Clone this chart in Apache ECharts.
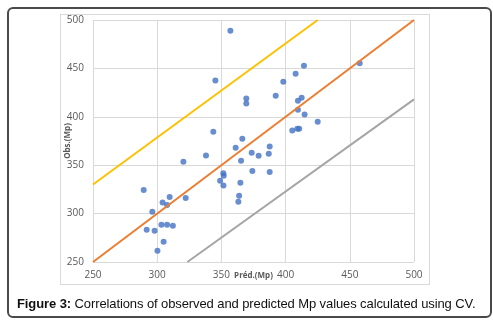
<!DOCTYPE html>
<html>
<head>
<meta charset="utf-8">
<script src="https://cdn.jsdelivr.net/npm/echarts@6/dist/echarts.min.js"></script>
<style>
  html, body { margin: 0; padding: 0; background: #fff; }
  #wrap { position: relative; width: 493px; height: 322px; overflow: hidden; }
  #outer { position: absolute; left: 7px; top: 7px; width: 481px; height: 307px;
    border: 2px solid #4a4a4a; border-radius: 6px; }
  #frame { position: absolute; left: 60px; top: 14px; width: 368px; height: 269px;
    border: 1px solid #d9d9d9; }
  #chart { position: absolute; left: 0; top: 0; width: 493px; height: 322px; }
  #caption { position: absolute; left: 17px; top: 296px; font-family: "Liberation Sans", Arial, sans-serif;
    font-size: 13px; letter-spacing: -0.1px; color: #111; white-space: nowrap; }
</style>
</head>
<body>
<div id="wrap">
  <div id="outer"></div>
  <div id="frame"></div>
  <div id="chart"></div>
  <div id="caption"><b>Figure 3:</b> Correlations of observed and predicted Mp values calculated using CV.</div>
</div>
<script>
// predicted / observed Mp pairs
const predicted = [357, 345.3, 414.3, 407.8, 457.7, 398.2, 392.3, 369.4, 369.4, 412.5,
  409.6, 409.6, 414.8, 425, 405.2, 409.1, 410.6, 343.7, 366.3, 361.1,
  387.6, 373.6, 379, 386.9, 338, 365.3, 320.4, 374.1, 387.6, 351.5,
  351.8, 349, 351.6, 364.8, 363.8, 363.2, 289.5, 322.2, 309.7, 304.2,
  307.7, 296.2, 291.8, 298, 303.3, 307.7, 312.2, 305, 300.2];
const observed = [489, 437.5, 452.8, 444.5, 455.2, 436.2, 421.7, 418.8, 413.8, 419.7,
  416.6, 407.2, 402.4, 394.8, 385.9, 387.6, 387.6, 384.6, 377.2, 368,
  369.3, 362.8, 359.7, 361.7, 360, 354.6, 353.6, 344.1, 343.1, 341.6,
  339, 334, 329, 331.9, 318.5, 312.3, 324.5, 316.2, 317.2, 311.4,
  309, 301.9, 283.3, 282.4, 288.4, 288.4, 287.4, 270.8, 261.7];
const upperLine = [[250, 330], [425, 500]];
const identityLine = [[250, 250], [500, 500]];
const lowerLine = [[323.5, 250], [500, 418]];
const ticks = [250, 300, 350, 400, 450, 500];

const points = predicted.map((p, i) => [p, observed[i]]);

const chart = echarts.init(document.getElementById('chart'));
const labelStyle = { color: '#595959', fontSize: 10, fontFamily: 'Open Sans, sans-serif' };
const nameStyle = { color: '#595959', fontSize: 8, fontWeight: 'bold', fontFamily: 'Open Sans, sans-serif' };
const gridLine = { show: true, lineStyle: { color: '#d9d9d9', width: 1 } };

chart.setOption({
  animation: false,
  grid: { left: 93, right: 79, top: 20, bottom: 60 },
  xAxis: {
    type: 'value', min: ticks[0], max: ticks[ticks.length - 1], interval: 50,
    name: 'Préd.(Mp)', nameLocation: 'middle', nameGap: 10, nameMoveOverlap: false,
    nameTextStyle: nameStyle,
    axisLine: { show: false }, axisTick: { show: false },
    axisLabel: Object.assign({ margin: 8 }, labelStyle),
    splitLine: gridLine
  },
  yAxis: {
    type: 'value', min: ticks[0], max: ticks[ticks.length - 1], interval: 50,
    name: 'Obs.(Mp)', nameLocation: 'middle', nameGap: 21, nameRotate: 90, nameMoveOverlap: false,
    nameTextStyle: nameStyle,
    axisLine: { show: false }, axisTick: { show: false },
    axisLabel: Object.assign({ margin: 9 }, labelStyle),
    splitLine: gridLine
  },
  series: [
    {
      type: 'line', data: upperLine, symbol: 'none', silent: true,
      lineStyle: { color: '#ffc000', width: 2 }
    },
    {
      type: 'line', data: identityLine, symbol: 'none', silent: true,
      lineStyle: { color: '#ed7d31', width: 2 }
    },
    {
      type: 'line', data: lowerLine, symbol: 'none', silent: true,
      lineStyle: { color: '#a5a5a5', width: 2 }
    },
    {
      type: 'scatter', data: points, symbol: 'circle', symbolSize: 6,
      itemStyle: { color: '#4472c4' }
    }
  ]
});
</script>
</body>
</html>
